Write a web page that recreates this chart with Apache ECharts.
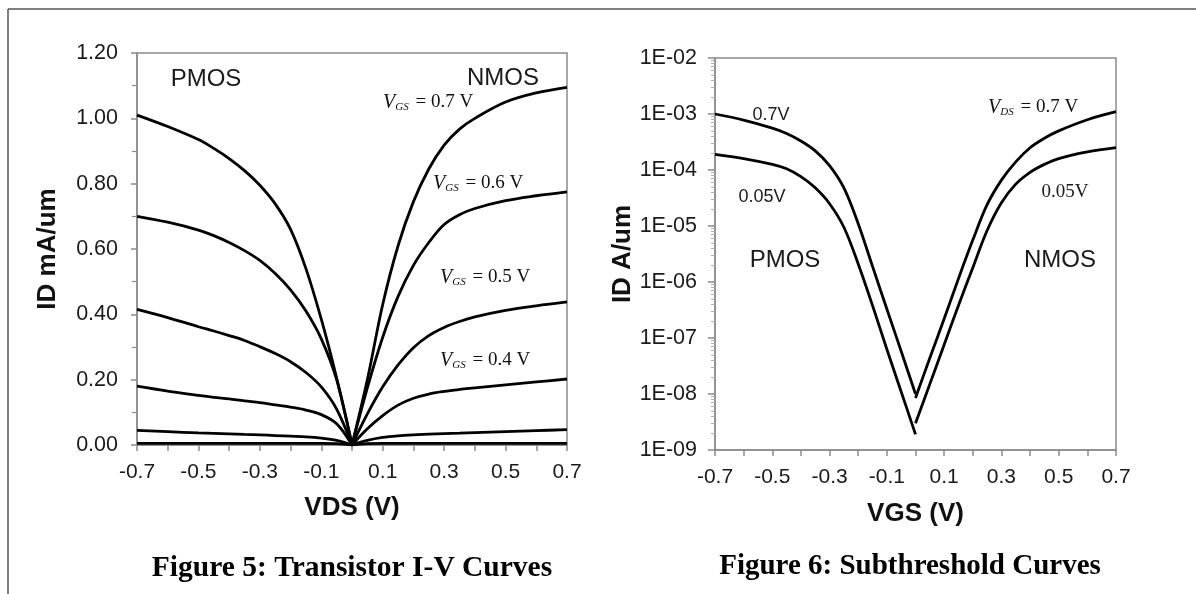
<!DOCTYPE html>
<html lang="en">
<head>
<meta charset="UTF-8">
<title>Transistor curves</title>
<style>
    html, body { margin: 0; padding: 0; background: #fff; }
    #chart { width: 1196px; height: 594px; }
</style>
</head>
<body>
<div id="chart"></div>
<script src="https://cdn.jsdelivr.net/npm/echarts@6/dist/echarts.min.js"></script>
<script>
    // Figure 5: I-V curves (mA/um), PMOS side
    var vdsP = [-0.7, -0.6, -0.5, -0.45, -0.4, -0.35, -0.3, -0.25, -0.2, -0.15, -0.1, -0.05, 0];
    var idP07 = [1.01, 0.975, 0.935, 0.908, 0.877, 0.84, 0.795, 0.738, 0.66, 0.54, 0.385, 0.205, 0];
    var idP06 = [0.70, 0.682, 0.658, 0.641, 0.62, 0.595, 0.565, 0.525, 0.475, 0.41, 0.325, 0.20, 0];
    var idP05 = [0.415, 0.39, 0.362, 0.349, 0.335, 0.32, 0.301, 0.28, 0.255, 0.222, 0.178, 0.11, 0];
    var idP04 = [0.18, 0.165, 0.152, 0.146, 0.141, 0.135, 0.13, 0.123, 0.116, 0.107, 0.093, 0.065, 0];
    var idP03 = [0.045, 0.041, 0.037, 0.0355, 0.034, 0.0325, 0.031, 0.029, 0.027, 0.025, 0.021, 0.014, 0];
    var idP02 = [0.005, 0.005, 0.005, 0.005, 0.005, 0.005, 0.005, 0.005, 0.005, 0.005, 0.005, 0.004, 0];

    // NMOS side
    var vdsN = [0, 0.05, 0.1, 0.15, 0.2, 0.25, 0.3, 0.35, 0.4, 0.5, 0.6, 0.7];
    var idN07 = [0, 0.20, 0.43, 0.61, 0.745, 0.845, 0.918, 0.967, 1.0, 1.05, 1.078, 1.095];
    var idN06 = [0, 0.175, 0.33, 0.455, 0.55, 0.62, 0.675, 0.705, 0.724, 0.748, 0.763, 0.775];
    var idN05 = [0, 0.095, 0.178, 0.245, 0.298, 0.335, 0.36, 0.378, 0.392, 0.412, 0.426, 0.438];
    var idN04 = [0, 0.05, 0.09, 0.122, 0.143, 0.156, 0.164, 0.17, 0.175, 0.184, 0.193, 0.202];
    var idN03 = [0, 0.014, 0.023, 0.028, 0.031, 0.033, 0.035, 0.0365, 0.038, 0.041, 0.044, 0.047];
    var idN02 = [0, 0.004, 0.005, 0.005, 0.005, 0.005, 0.005, 0.005, 0.005, 0.005, 0.005, 0.005];

    // Figure 6: subthreshold curves (A/um)
    var vgsP = [-0.7, -0.6, -0.5, -0.45, -0.4, -0.35, -0.3, -0.25, -0.2, -0.15, -0.1, -0.05, 0];
    var subP07 = [1e-3, 7.8e-4, 5.6e-4, 4.5e-4, 3.3e-4, 2.2e-4, 1.2e-4, 4.8e-5, 1.1e-5, 1.9e-6, 3.3e-7, 5.8e-8, 1e-8];
    var subP005 = [1.9e-4, 1.6e-4, 1.26e-4, 1.05e-4, 7.6e-5, 4.8e-5, 2.5e-5, 9.5e-6, 2.1e-6, 3.8e-7, 6.3e-8, 1.1e-8, 1.9e-9];
    var vgsN = [0, 0.05, 0.1, 0.15, 0.2, 0.25, 0.3, 0.35, 0.4, 0.45, 0.5, 0.6, 0.7];
    var subN07 = [8.5e-9, 4.4e-8, 2.2e-7, 1.15e-6, 5.6e-6, 2.4e-5, 6.6e-5, 1.4e-4, 2.5e-4, 3.7e-4, 5e-4, 7.9e-4, 1.1e-3];
    var subN005 = [3e-9, 1.5e-8, 7.6e-8, 3.8e-7, 1.8e-6, 8.3e-6, 2.6e-5, 5.6e-5, 9.1e-5, 1.26e-4, 1.6e-4, 2.1e-4, 2.5e-4];

    var SANS = '"Liberation Sans", Arial, sans-serif';
    var SERIF = '"Liberation Serif", "Times New Roman", serif';
    var AXIS_GRAY = '#8c8c8c';

    function zip (xs, ys) {
        var res = [];
        for (var i = 0; i < xs.length; i++) {
            res.push([xs[i], ys[i]]);
        }
        return res;
    }

    function curve (xs, ys, gridIdx) {
        return {
            type: 'line',
            xAxisIndex: gridIdx,
            yAxisIndex: gridIdx,
            data: zip(xs, ys),
            showSymbol: false,
            smooth: 0.35,
            silent: true,
            lineStyle: {color: '#000', width: 2.8}
        };
    }

    function xAxisOpt (gridIdx, title, gap) {
        return {
            type: 'value',
            gridIndex: gridIdx,
            min: -0.7,
            max: 0.7,
            interval: 0.1,
            name: title,
            nameLocation: 'middle',
            nameGap: gap,
            nameTextStyle: {fontFamily: SANS, fontSize: 26, fontWeight: 'bold', color: '#111'},
            axisLine: {onZero: false, lineStyle: {color: AXIS_GRAY, width: 1.5}},
            axisTick: {show: true, length: 6, lineStyle: {color: AXIS_GRAY, width: 1.5}},
            axisLabel: {
                margin: 17,
                fontFamily: SANS,
                fontSize: 21,
                color: '#1a1a1a',
                formatter: function (v) {
                    var k = Math.round(v * 10);
                    return (Math.abs(k) % 2 === 1) ? (k / 10).toFixed(1) : '';
                }
            },
            splitLine: {show: false}
        };
    }

    function vgsLabel (x, y, sub, val) {
        return {
            type: 'text',
            left: x,
            top: y,
            style: {
                text: '{v|V}{s|' + sub + '}{t| = ' + val + ' V}',
                rich: {
                    v: {fontFamily: SERIF, fontStyle: 'italic', fontSize: 20, fill: '#111', lineHeight: 24},
                    s: {fontFamily: SERIF, fontStyle: 'italic', fontSize: 11, fill: '#111', lineHeight: 24, padding: [10, 2, 0, 0]},
                    t: {fontFamily: SERIF, fontSize: 19, fill: '#111', lineHeight: 24}
                }
            }
        };
    }

    function plainText (x, y, text, size, font) {
        return {
            type: 'text',
            x: x,
            y: y,
            style: {
                text: text,
                fontFamily: font || SANS,
                fontSize: size,
                fill: '#1a1a1a',
                textAlign: 'center',
                textVerticalAlign: 'middle'
            }
        };
    }

    var option = {
        backgroundColor: '#fff',
        animation: false,
        grid: [
            {left: 137, top: 53, width: 430, height: 392, show: true, borderColor: AXIS_GRAY, borderWidth: 1.5},
            {left: 715, top: 58, width: 401, height: 392, show: true, borderColor: AXIS_GRAY, borderWidth: 1.5}
        ],
        xAxis: [
            xAxisOpt(0, 'VDS (V)', 50),
            xAxisOpt(1, 'VGS (V)', 51)
        ],
        yAxis: [
            {
                type: 'value',
                gridIndex: 0,
                min: 0,
                max: 1.2,
                interval: 0.2,
                name: 'ID mA/um',
                nameLocation: 'middle',
                nameGap: 76,
                nameTextStyle: {fontFamily: SANS, fontSize: 26, fontWeight: 'bold', color: '#111'},
                axisLine: {show: true, onZero: false, lineStyle: {color: AXIS_GRAY, width: 1.5}},
                axisTick: {show: true, length: 6, lineStyle: {color: AXIS_GRAY, width: 1.5}},
                minorTick: {show: true, splitNumber: 2, length: 5, lineStyle: {color: AXIS_GRAY, width: 1.2}},
                axisLabel: {
                    margin: 19,
                    fontFamily: SANS,
                    fontSize: 21.5,
                    color: '#1a1a1a',
                    formatter: function (v) { return v.toFixed(2); }
                },
                splitLine: {show: false}
            },
            {
                type: 'log',
                gridIndex: 1,
                logBase: 10,
                min: 1e-9,
                max: 1e-2,
                interval: 1,
                name: 'ID A/um',
                nameLocation: 'middle',
                nameGap: 50,
                nameTextStyle: {fontFamily: SANS, fontSize: 26, fontWeight: 'bold', color: '#111'},
                axisLine: {show: true, onZero: false, lineStyle: {color: AXIS_GRAY, width: 1.5}},
                axisTick: {show: true, length: 7, lineStyle: {color: AXIS_GRAY, width: 1.5}},
                minorTick: {show: true, splitNumber: 9, length: 4, lineStyle: {color: '#b0b0b0', width: 1}},
                axisLabel: {
                    margin: 18,
                    fontFamily: SANS,
                    fontSize: 21.5,
                    color: '#1a1a1a',
                    formatter: function (v) {
                        var e = Math.round(Math.log(v) / Math.LN10);
                        return '1E-0' + Math.abs(e);
                    }
                },
                splitLine: {show: false}
            }
        ],
        graphic: [
            // outer frame of the page
            {type: 'line', shape: {x1: 8, y1: 9, x2: 1196, y2: 9}, style: {stroke: '#555', lineWidth: 1.5}},
            {type: 'line', shape: {x1: 8, y1: 9, x2: 8, y2: 594}, style: {stroke: '#555', lineWidth: 1.5}},

            plainText(206, 79, 'PMOS', 24),
            plainText(503, 78, 'NMOS', 24),
            vgsLabel(383, 92, 'GS', '0.7'),
            vgsLabel(433, 173, 'GS', '0.6'),
            vgsLabel(440, 267, 'GS', '0.5'),
            vgsLabel(440, 350, 'GS', '0.4'),

            plainText(771, 115, '0.7V', 18),
            plainText(762, 197, '0.05V', 18),
            plainText(785, 260, 'PMOS', 24),
            plainText(1060, 260, 'NMOS', 24),
            vgsLabel(988, 97, 'DS', '0.7'),
            plainText(1065, 192, '0.05V', 19, SERIF),

            {
                type: 'text', x: 352, y: 568,
                style: {text: 'Figure 5: Transistor I-V Curves', fontFamily: SERIF, fontWeight: 'bold', fontSize: 29.5, fill: '#000', textAlign: 'center', textVerticalAlign: 'middle'}
            },
            {
                type: 'text', x: 910, y: 567,
                style: {text: 'Figure 6: Subthreshold Curves', fontFamily: SERIF, fontWeight: 'bold', fontSize: 29, fill: '#000', textAlign: 'center', textVerticalAlign: 'middle'}
            }
        ],
        series: [
            curve(vdsP, idP07, 0),
            curve(vdsP, idP06, 0),
            curve(vdsP, idP05, 0),
            curve(vdsP, idP04, 0),
            curve(vdsP, idP03, 0),
            curve(vdsP, idP02, 0),
            curve(vdsN, idN07, 0),
            curve(vdsN, idN06, 0),
            curve(vdsN, idN05, 0),
            curve(vdsN, idN04, 0),
            curve(vdsN, idN03, 0),
            curve(vdsN, idN02, 0),
            curve(vgsP, subP07, 1),
            curve(vgsP, subP005, 1),
            curve(vgsN, subN07, 1),
            curve(vgsN, subN005, 1)
        ]
    };

    var chart = echarts.init(document.getElementById('chart'));
    chart.setOption(option);
</script>
</body>
</html>
